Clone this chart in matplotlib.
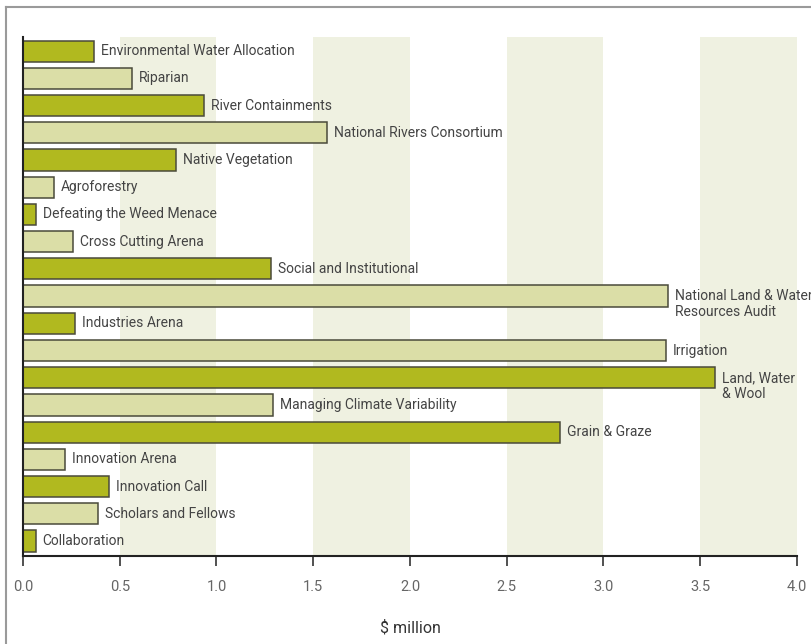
import matplotlib.pyplot as plt
from matplotlib.lines import Line2D

plt.rcParams['font.family'] = ['Roboto', 'DejaVu Sans']

labels = ["Environmental Water Allocation", "Riparian", "River Containments",
          "National Rivers Consortium", "Native Vegetation", "Agroforestry",
          "Defeating the Weed Menace", "Cross Cutting Arena", "Social and Institutional",
          "National Land & Water\nResources Audit", "Industries Arena", "Irrigation",
          "Land, Water\n& Wool", "Managing Climate Variability", "Grain & Graze",
          "Innovation Arena", "Innovation Call", "Scholars and Fellows", "Collaboration"]
values = [0.367, 0.563, 0.935, 1.571, 0.791, 0.16, 0.067, 0.258, 1.282,
          3.333, 0.269, 3.323, 3.576, 1.292, 2.775, 0.217, 0.444, 0.388, 0.067]
xticks = [0.0, 0.5, 1.0, 1.5, 2.0, 2.5, 3.0, 3.5, 4.0]

dark = "#b1b91f"
light = "#dbdea7"
band = "#eff1e1"
txt = "#444444"

fig = plt.figure(figsize=(8.12, 6.44), dpi=100)
ax = fig.add_axes([23 / 812, 1 - 556 / 644, 774 / 812, 519 / 644])

# shaded bands every other half million
for lo in [0.5, 1.5, 2.5, 3.5]:
    ax.axvspan(lo, lo + 0.5, color=band, lw=0, zorder=0)

ypos = list(range(len(values)))
colors = [dark if i % 2 == 0 else light for i in ypos]
ax.barh(ypos, values, height=0.78, color=colors, edgecolor="#4a4a3a", linewidth=1.1, zorder=2)

for i, (v, lab) in enumerate(zip(values, labels)):
    if "\n" in lab:
        ax.text(v + 0.035, i + 0.3, lab, va="center", ha="left", fontsize=10,
                color=txt, linespacing=1.15, zorder=3)
    else:
        ax.text(v + 0.035, i, lab, va="center", ha="left", fontsize=10, color=txt, zorder=3)

ax.set_xlim(0, 4.0)
ax.set_ylim(18.55, -0.52)
ax.set_yticks([])
ax.set_xticks(xticks)
ax.set_xticklabels([f"{t:.1f}" for t in xticks], fontsize=10.5, color="#666666")
ax.tick_params(axis="x", length=7, width=1.2, color="#333333", pad=10)
ax.set_xlabel("\\$ million", fontsize=11.5, color="#333333", labelpad=19)

for s in ["top", "right"]:
    ax.spines[s].set_visible(False)
ax.spines["left"].set_linewidth(1.5)
ax.spines["bottom"].set_linewidth(1.5)
ax.spines["left"].set_color("#222222")
ax.spines["bottom"].set_color("#222222")

# outer frame (top and left edges)
fig.add_artist(Line2D([6 / 812, 1], [1 - 7 / 644, 1 - 7 / 644], color="#9a9a9a", lw=1.5))
fig.add_artist(Line2D([6 / 812, 6 / 812], [0, 1 - 7 / 644], color="#9a9a9a", lw=1.5))

fig.savefig("out.png", dpi=100)
